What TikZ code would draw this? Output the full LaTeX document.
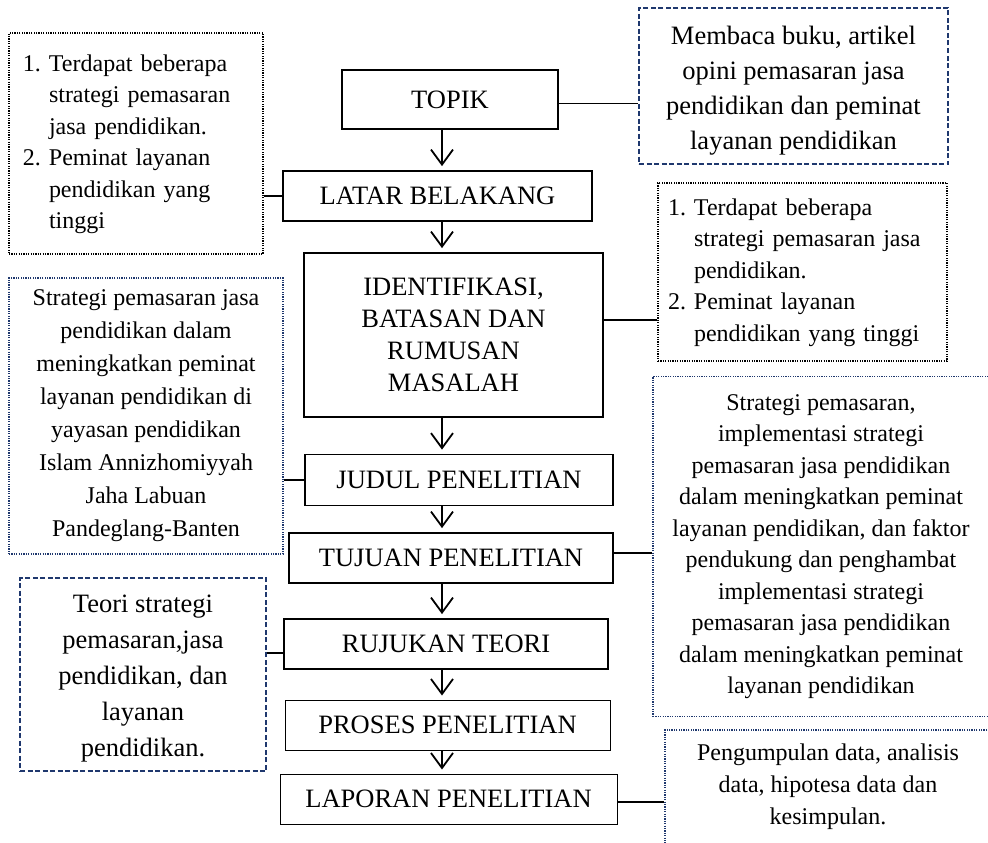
\documentclass[tikz,border=0pt]{standalone}
\usepackage{fontspec}
\setmainfont{Liberation Serif}
\usetikzlibrary{arrows.meta}
\definecolor{navy}{RGB}{31,56,110}
\newcommand\mainfs{\fontsize{26.5}{32}\selectfont}
\newcommand\sidefs{\fontsize{24}{31.5}\selectfont}
\newcommand\bigsidefs{\fontsize{26.5}{35}\selectfont}
\begin{document}
\begin{tikzpicture}[x=1pt,y=-1pt,
  mainbox/.style={draw, line width=1.8pt, inner sep=0pt, align=center, font=\mainfs},
  thinbox/.style={draw, line width=1pt, inner sep=0pt, align=center, font=\mainfs},
  dotblack/.style={draw, line width=1.4pt, dash pattern=on 1.2pt off 1.2pt, inner sep=0pt},
  dotnavy/.style={draw=navy, line width=1.4pt, dash pattern=on 1.2pt off 1.2pt, inner sep=0pt},
  dashnavy/.style={draw=navy, line width=1.4pt, dash pattern=on 5pt off 2.5pt, inner sep=0pt},
  conn/.style={line width=1.5pt},
  arr/.style={line width=1.5pt, -{Straight Barb[length=15pt,width=22pt,line width=1.8pt]}, shorten >=4pt}]
\useasboundingbox (0,0) rectangle (988,843);
\clip (0,0) rectangle (988,843);
\fill[white] (0,0) rectangle (988,843);

% main column
\node[mainbox, minimum width=216, minimum height=59] (topik) at (450,99.5) {TOPIK};
\node[mainbox, minimum width=309, minimum height=50] (latar) at (437.5,196) {LATAR BELAKANG};
\node[mainbox, minimum width=299, minimum height=164] (ident) at (453.5,335) {IDENTIFIKASI,\\BATASAN DAN\\RUMUSAN\\MASALAH};
\node[mainbox, minimum width=308, minimum height=51] (judul) at (459,480) {JUDUL PENELITIAN};
\node[mainbox, minimum width=324, minimum height=50] (tujuan) at (451,558) {TUJUAN PENELITIAN};
\node[mainbox, minimum width=324, minimum height=50] (rujukan) at (446,644) {RUJUKAN TEORI};
\node[thinbox, minimum width=325, minimum height=50] (proses) at (447.5,725) {PROSES PENELITIAN};
\node[thinbox, minimum width=337, minimum height=50] (laporan) at (448.5,799) {LAPORAN PENELITIAN};

% side boxes
\node[dotblack, minimum width=254, minimum height=221, text width=226, inner xsep=14, align=left, font=\sidefs] (lb1) at (136,143.5)
  {\begin{tabular}{@{}l@{\hspace{8pt}}l@{}}1. & Terdapat beberapa\\ & strategi pemasaran\\ & jasa pendidikan.\\ 2. & Peminat layanan\\ & pendidikan yang\\ & tinggi\end{tabular}};
\node[dashnavy, minimum width=309, minimum height=156, align=center, font=\bigsidefs] (membaca) at (793.5,86)
  {\raisebox{-10.5pt}[0pt][0pt]{\begin{tabular}{@{}c@{}}Membaca buku, artikel\\opini pemasaran jasa\\pendidikan dan peminat\\layanan pendidikan\end{tabular}}};
\node[dotblack, minimum width=289, minimum height=178, text width=269, inner xsep=10, align=left, font=\sidefs] (rb2) at (802.5,272)
  {\begin{tabular}{@{}l@{\hspace{8pt}}l@{}}1. & Terdapat beberapa\\ & strategi pemasaran jasa\\ & pendidikan.\\ 2. & Peminat layanan\\ & pendidikan yang tinggi\end{tabular}};
\node[dotnavy, minimum width=274, minimum height=276, align=center, font=\fontsize{24}{33}\selectfont] (lb3) at (146,416)
  {Strategi pemasaran jasa\\pendidikan dalam\\meningkatkan peminat\\layanan pendidikan di\\yayasan pendidikan\\Islam Annizhomiyyah\\Jaha Labuan\\Pandeglang-Banten};
\node[dotnavy, minimum width=336, minimum height=340, align=center, font=\sidefs] (rb4) at (821,546.5)
  {Strategi pemasaran,\\implementasi strategi\\pemasaran jasa pendidikan\\dalam meningkatkan peminat\\layanan pendidikan, dan faktor\\pendukung dan penghambat\\implementasi strategi\\pemasaran jasa pendidikan\\dalam meningkatkan peminat\\layanan pendidikan};
\node[dashnavy, minimum width=246, minimum height=193, align=center, font=\fontsize{26.5}{36}\selectfont] (lb4) at (143,674.5)
  {\raisebox{-9.5pt}[0pt][0pt]{\begin{tabular}{@{}c@{}}Teori strategi\\pemasaran,jasa\\pendidikan, dan\\layanan\\pendidikan.\end{tabular}}};
\node[dotnavy, minimum width=326, minimum height=114, align=center, font=\fontsize{24}{32}\selectfont] (rb5) at (828,787)
  {Pengumpulan data, analisis\\data, hipotesa data dan\\kesimpulan.};

% arrows
\coordinate (ax) at (442,0);
\draw[arr] (topik.south -| ax) -- (latar.north -| ax);
\draw[arr] (latar.south -| ax) -- (ident.north -| ax);
\draw[arr] (ident.south -| ax) -- (judul.north -| ax);
\draw[arr] (judul.south -| ax) -- (tujuan.north -| ax);
\draw[arr] (tujuan.south -| ax) -- (rujukan.north -| ax);
\draw[arr] (rujukan.south -| ax) -- (proses.north -| ax);
\draw[arr] (proses.south -| ax) -- (laporan.north -| ax);

% connectors
\draw[conn] ([yshift=-4pt]topik.east) -- ([yshift=-4pt]topik.east -| membaca.west);
\draw[conn] (latar.west) -- (latar.west -| lb1.east);
\draw[conn] ([yshift=15pt]ident.east) -- ([yshift=15pt]ident.east -| rb2.west);
\draw[conn] (judul.west) -- (judul.west -| lb3.east);
\draw[conn] ([yshift=5pt]tujuan.east) -- ([yshift=5pt]tujuan.east -| rb4.west);
\draw[conn] ([yshift=-9pt]rujukan.west) -- ([yshift=-9pt]rujukan.west -| lb4.east);
\draw[conn] ([yshift=-3pt]laporan.east) -- ([yshift=-3pt]laporan.east -| rb5.west);
\end{tikzpicture}
\end{document}
